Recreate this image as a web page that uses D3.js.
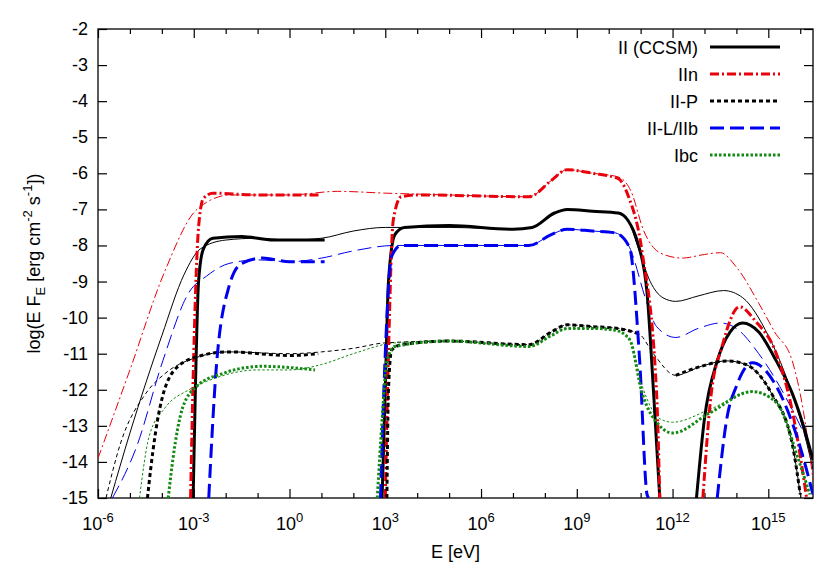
<!DOCTYPE html>
<html><head><meta charset="utf-8">
<script src="https://cdn.jsdelivr.net/npm/d3@7"></script>
<style>body{margin:0;background:#fff}text{font-family:"Liberation Sans",Arial,sans-serif}</style>
</head><body><div id="chart"></div>
<script>
// points are [log10 E, log10 E F_E]
const ccsmThin = [[-5.6,-15],[-5,-13.2],[-4,-10.5],[-3.3,-8.8],[-2.8,-8.1],[-2,-7.85],[-1,-7.8],[0,-7.85],[1,-7.8],[2,-7.6],[3,-7.5],[5,-7.5],[7,-7.55],[7.6,-7.5],[8.3,-7.1],[8.7,-7.0],[9.5,-7.05],[10.3,-7.1],[10.6,-7.3],[10.9,-8.0],[11.3,-9.0],[11.7,-9.45],[12.1,-9.55],[12.8,-9.4],[13.6,-9.25],[14.2,-9.45],[15,-10.5],[15.5,-11.5],[16,-12.8],[16.4,-14.2]];
const ccsmThick = [
  [[-3.02,-15],[-2.95,-12],[-2.85,-9],[-2.7,-8.1],[-2.4,-7.8],[-1.5,-7.75],[-0.5,-7.85],[1.1,-7.85]],
  [[2.9,-15],[3.0,-12],[3.1,-9],[3.3,-7.7],[3.6,-7.5],[5,-7.45],[7,-7.55],[7.6,-7.5],[8.3,-7.1],[8.7,-7.0],[9.5,-7.05],[10.3,-7.1],[10.6,-7.3],[10.9,-7.9],[11.2,-9.3],[11.4,-12],[11.6,-15]],
  [[12.75,-15],[13.0,-12.8],[13.4,-11.2],[13.8,-10.4],[14.2,-10.15],[14.7,-10.4],[15.25,-11.2],[15.75,-12.1],[16.1,-13.0],[16.4,-13.95]]
];
const iinThin = [[-6,-13.9],[-5,-11.45],[-3.9,-8.7],[-2.9,-7.0],[-1.85,-6.6],[0,-6.6],[1.5,-6.5],[3,-6.55],[5,-6.6],[7.5,-6.65],[8.2,-6.2],[8.7,-5.9],[9.5,-6.0],[10.3,-6.1],[10.7,-6.5],[11.1,-7.6],[11.6,-8.2],[12.3,-8.35],[13,-8.25],[13.5,-8.2],[14,-8.6],[14.7,-9.6],[15.2,-10.4],[15.75,-11.2],[16.1,-12.6],[16.4,-14.5]];
const iinThick = [
  [[-3.1,-15],[-3.0,-11],[-2.85,-7.5],[-2.7,-6.7],[-2.4,-6.55],[-1,-6.6],[1.0,-6.6]],
  [[3.0,-15],[3.1,-11],[3.25,-7.3],[3.5,-6.65],[4,-6.6],[7.5,-6.65],[8.2,-6.2],[8.7,-5.9],[9.5,-6.0],[10.3,-6.15],[10.6,-6.6],[11.05,-8.2],[11.5,-12.1],[11.6,-15]],
  [[12.95,-15],[13.2,-12.2],[13.55,-10.8],[14.1,-9.7],[14.6,-10.1],[15.25,-11.0],[15.8,-12.8],[16.2,-15]]
];
const iipThin = [[-5.75,-15],[-5.3,-13.5],[-4.5,-12.1],[-3.9,-11.55],[-2.9,-11.1],[-1.9,-10.95],[0,-11.0],[1,-10.95],[2,-10.85],[3,-10.7],[5,-10.65],[7.5,-10.75],[8.2,-10.4],[8.7,-10.2],[9.5,-10.25],[10.3,-10.3],[10.95,-10.45],[11.4,-11.0],[12.1,-11.6],[12.9,-11.35],[13.7,-11.2],[14.3,-11.3],[15.1,-12.1],[15.75,-13.5],[16.0,-14.9]];
const iipThick = [
  [[-4.45,-15],[-4.35,-14.2],[-4.2,-13.2],[-3.65,-11.5],[-2.95,-11.1],[-1.9,-10.95],[0,-11.05],[0.9,-11.0]],
  [[3.05,-15],[3.1,-12],[3.2,-10.9],[3.5,-10.75],[5,-10.65],[7.5,-10.75],[8.2,-10.4],[8.7,-10.2],[9.5,-10.25],[10.3,-10.3],[10.95,-10.45]],
  [[12.1,-11.6],[12.9,-11.35],[13.7,-11.2],[14.3,-11.3],[15.1,-12.1],[15.75,-13.5],[16.0,-14.9]]
];
const illThin = [[-5.55,-15],[-4.8,-13.6],[-3.97,-11.2],[-3.15,-9.3],[-2.6,-8.85],[-1.9,-8.5],[-1,-8.4],[0,-8.45],[1,-8.35],[2,-8.15],[3.3,-8.0],[5,-8.0],[7.5,-8.0],[8.2,-7.7],[8.7,-7.55],[9.5,-7.6],[10.2,-7.65],[10.65,-8.05],[11.2,-9.6],[11.5,-10.25],[12.1,-10.55],[12.8,-10.3],[13.5,-10.15],[14.0,-10.3],[14.7,-11.0],[15.75,-12.55],[16.4,-13.75]];
const illThick = [
  [[-2.53,-15],[-2.3,-11.45],[-1.9,-9.15],[-1.5,-8.5],[-0.85,-8.35],[0,-8.45],[1.1,-8.45]],
  [[2.85,-15],[3.0,-11],[3.2,-8.3],[3.5,-8.0],[5,-8.0],[7.5,-8.0],[8.2,-7.7],[8.7,-7.55],[9.5,-7.6],[10.2,-7.65],[10.65,-8.05],[10.97,-11.2],[11.2,-14.9],[11.25,-15]],
  [[13.4,-15],[13.7,-12.8],[14.0,-11.9],[14.5,-11.25],[15.25,-11.9],[15.95,-13.45],[16.4,-14.9]]
];
const ibcThin = [[-4.7,-15],[-4.4,-13.3],[-3.9,-12.5],[-3.15,-12.0],[-2.4,-11.7],[-1,-11.45],[0,-11.45],[1,-11.3],[2,-11.0],[3.3,-10.7],[5,-10.65],[7.5,-10.8],[8.2,-10.5],[8.7,-10.3],[9.5,-10.3],[10.2,-10.35],[10.65,-10.6],[11.05,-11.9],[11.6,-12.8],[12.0,-12.9],[13.15,-12.55],[14.5,-12.05],[15.25,-12.35],[15.95,-13.95],[16.3,-14.9]];
const ibcThick = [
  [[-3.8,-15],[-3.65,-13.9],[-3.35,-12.5],[-2.9,-11.9],[-2.1,-11.55],[-0.85,-11.35],[0.8,-11.45]],
  [[2.75,-15],[2.9,-12.85],[3.05,-11.2],[3.3,-10.8],[5,-10.65],[7.5,-10.8],[8.2,-10.5],[8.7,-10.3],[9.5,-10.3],[10.2,-10.35],[10.65,-10.6],[11.05,-12.1],[11.6,-13.0],[12.0,-13.2],[13.15,-12.65],[14.5,-12.05],[15.25,-12.35],[15.95,-13.95],[16.3,-14.9]]
];

const series = [
  {name: "II (CCSM)", color: "#000", dash: null, thin: ccsmThin, thick: ccsmThick},
  {name: "IIn", color: "#e8000b", dash: "9,3,2,3", thin: iinThin, thick: iinThick},
  {name: "II-P", color: "#000", dash: "4,3", thin: iipThin, thick: iipThick},
  {name: "II-L/IIb", color: "#0000f0", dash: "14,6", thin: illThin, thick: illThick},
  {name: "Ibc", color: "#138a13", dash: "2.5,2", thin: ibcThin, thick: ibcThick}
];
const yTicks = d3.range(-2, -16, -1);
const xTicks = [-6, -3, 0, 3, 6, 9, 12, 15];

const svgwidth = 830, svgheight = 581;
const margin = {top: 29, right: 17, bottom: 83, left: 98};
const width = svgwidth - margin.left - margin.right;
const height = svgheight - margin.top - margin.bottom;

const svg = d3.select("#chart").append("svg")
    .attr("width", svgwidth).attr("height", svgheight);
const g = svg.append("g").attr("transform", `translate(${margin.left},${margin.top})`);

const x = d3.scaleLinear().domain([-6, 16.4]).range([0, width]);
const y = d3.scaleLinear().domain([-15, -2]).range([height, 0]);

svg.append("clipPath").attr("id", "clip").append("rect").attr("width", width).attr("height", height);

// ticks inside the frame
const minor = d3.range(-5, 17).filter(d => xTicks.indexOf(d) < 0);
g.append("g").attr("transform", `translate(0,${height})`)
    .call(d3.axisBottom(x).tickValues(xTicks).tickSize(-9).tickFormat(""));
g.append("g").attr("transform", `translate(0,${height})`)
    .call(d3.axisBottom(x).tickValues(minor).tickSize(-5).tickFormat(""));
g.append("g").call(d3.axisTop(x).tickValues(xTicks).tickSize(-9).tickFormat(""));
g.append("g").call(d3.axisTop(x).tickValues(minor).tickSize(-5).tickFormat(""));
g.append("g").call(d3.axisLeft(y).tickValues(yTicks).tickSize(-9).tickFormat(""));
g.append("g").attr("transform", `translate(${width},0)`)
    .call(d3.axisRight(y).tickValues(yTicks).tickSize(-9).tickFormat(""));
g.selectAll(".domain").remove();
g.selectAll(".tick line").attr("stroke", "#000").attr("stroke-width", 1.2);
g.append("rect").attr("width", width).attr("height", height)
    .attr("fill", "none").attr("stroke", "#000").attr("stroke-width", 1.3);

g.selectAll(".ylab").data(yTicks).enter().append("text")
    .attr("x", -10).attr("y", d => y(d) + 6).attr("text-anchor", "end")
    .attr("font-size", 18).text(d => d);

const xl = g.selectAll(".xlab").data(xTicks).enter().append("text")
    .attr("x", d => x(d)).attr("y", height + 32).attr("text-anchor", "middle").attr("font-size", 18);
xl.append("tspan").text("10");
xl.append("tspan").attr("dy", -8).attr("font-size", 13).text(d => d);

g.append("text").attr("x", width / 2).attr("y", height + 60)
    .attr("text-anchor", "middle").attr("font-size", 18).text("E [eV]");

const yl = g.append("text").attr("transform", `translate(-58,${height / 2}) rotate(-90)`)
    .attr("text-anchor", "middle").attr("font-size", 18);
yl.append("tspan").text("log(E F");
yl.append("tspan").attr("dy", 5).attr("font-size", 13).text("E");
yl.append("tspan").attr("dy", -5).text(" [erg cm");
yl.append("tspan").attr("dy", -8).attr("font-size", 13).text("-2");
yl.append("tspan").attr("dy", 8).text(" s");
yl.append("tspan").attr("dy", -8).attr("font-size", 13).text("-1");
yl.append("tspan").attr("dy", 8).text("])");

const line = d3.line().x(d => x(d[0])).y(d => y(d[1])).curve(d3.curveMonotoneX);
const plot = g.append("g").attr("clip-path", "url(#clip)");

series.forEach(s => {
    plot.append("path").datum(s.thin).attr("d", line)
        .attr("fill", "none").attr("stroke", s.color).attr("stroke-width", 1)
        .attr("stroke-dasharray", s.dash);
});
series.forEach(s => {
    s.thick.forEach(seg => {
        plot.append("path").datum(seg).attr("d", line)
            .attr("fill", "none").attr("stroke", s.color).attr("stroke-width", 3)
            .attr("stroke-dasharray", s.dash);
    });
});

// legend
const leg = g.selectAll(".leg").data(series).enter().append("g")
    .attr("transform", (d, i) => `translate(0,${18 + i * 27})`);
leg.append("text").attr("x", 600).attr("y", 7).attr("text-anchor", "end")
    .attr("font-size", 18).text(d => d.name);
leg.append("line").attr("x1", 612).attr("x2", 682)
    .attr("stroke", d => d.color).attr("stroke-width", 3)
    .attr("stroke-dasharray", d => d.dash);
</script></body></html>
